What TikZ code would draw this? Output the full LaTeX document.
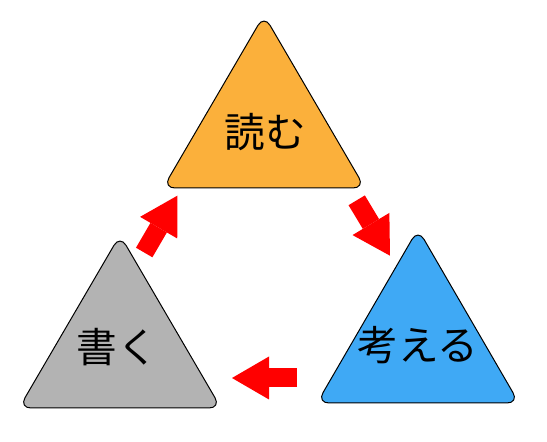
\documentclass[tikz,border=0pt]{standalone}
\usepackage{fontspec}
\setmainfont{Noto Sans CJK JP}
\usetikzlibrary{arrows.meta}
\definecolor{readorange}{RGB}{251,176,59}
\definecolor{thinkblue}{RGB}{63,169,245}
\definecolor{writegray}{RGB}{179,179,179}
\begin{document}
\begin{tikzpicture}[x=.75pt, y=-.75pt,
  tri/.style={draw=black, line width=.75pt, rounded corners=9pt},
  word/.style={font=\fontsize{30.5}{36}\selectfont, inner sep=0pt},
  turn/.style={draw=red, line width=14.25pt, -{Triangle[width=32.25pt, length=27.75pt, line width=0pt]}}]

\useasboundingbox (0,0) rectangle (547,442);

\draw [tri, fill=readorange] (163,188) -- (365,188) -- (264,15) -- cycle;
\draw [tri, fill=writegray] (19,408) -- (221,408) -- (120,235) -- cycle;
\draw [tri, fill=thinkblue] (317,403) -- (519,403) -- (418,229) -- cycle;

\node [word] (read) at (265,132) {読む};
\node [word] (write) at (117,347) {書く};
\node [word] (think) at (418,345) {考える};

\coordinate (writeout) at (144.2,252.5);
\coordinate (readin) at (177.3,195.7);
\coordinate (readout) at (356.7,200.3);
\coordinate (thinkin) at (390,255.7);
\coordinate (thinkout) at (297,378);
\coordinate (writein) at (232,378);

\draw [turn] (writeout) -- (readin);
\draw [turn] (readout) -- (thinkin);
\draw [turn] (thinkout) -- (writein);

\end{tikzpicture}
\end{document}
